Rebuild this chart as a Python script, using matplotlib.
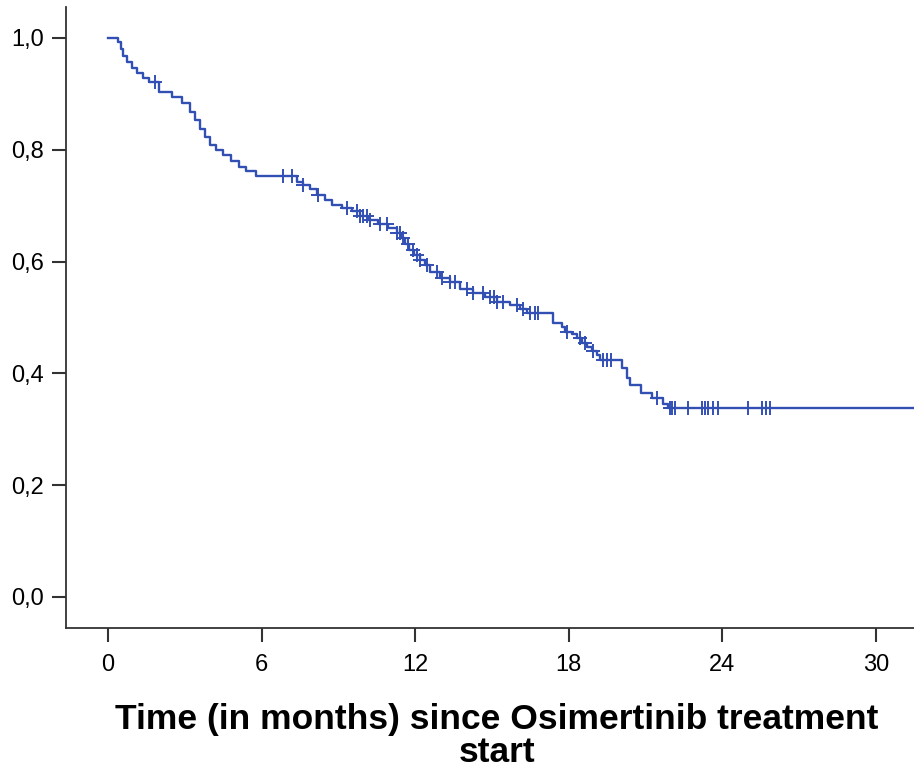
import numpy as np
import matplotlib
matplotlib.use("Agg")
import matplotlib.pyplot as plt

# Kaplan-Meier steps: event time (months) -> survival after event
event_times = [0.4, 0.5, 0.6, 0.75, 0.95, 1.15, 1.35, 1.6, 2.0, 2.5, 2.9, 3.2, 3.4,
               3.6, 3.8, 4.0, 4.2, 4.5, 4.8, 5.1, 5.4, 5.8,
               7.38, 7.62, 7.9, 8.16, 8.48, 8.75, 9.14, 9.53, 9.84, 10.16, 10.55,
               10.94, 11.29, 11.45, 11.6, 11.76, 11.95, 12.19, 12.38, 12.58, 12.97,
               13.36, 13.75, 14.26, 14.73, 15.2, 15.7, 16.1, 16.37, 17.38, 17.73,
               17.85, 18.13, 18.32, 18.52, 18.71, 18.9, 19.1, 19.22, 20.08, 20.27,
               20.4, 20.82, 21.25, 21.68, 21.88]
event_surv = [0.993, 0.980, 0.967, 0.957, 0.947, 0.937, 0.928, 0.921, 0.903, 0.895,
              0.883, 0.868, 0.853, 0.838, 0.822, 0.808, 0.800, 0.790, 0.780, 0.770,
              0.762, 0.753,
              0.742, 0.737, 0.730, 0.719, 0.710, 0.701, 0.696, 0.690, 0.682, 0.674,
              0.667, 0.660, 0.651, 0.642, 0.631, 0.621, 0.612, 0.603, 0.594, 0.581,
              0.571, 0.564, 0.551, 0.544, 0.537, 0.528, 0.522, 0.515, 0.508, 0.490,
              0.483, 0.474, 0.470, 0.463, 0.454, 0.447, 0.440, 0.433, 0.424, 0.410,
              0.392, 0.379, 0.365, 0.356, 0.345, 0.338]

# censored observations (months)
censor_times = [1.85, 6.84, 7.19, 7.62, 8.2, 9.34, 9.73, 9.84, 9.96, 10.12, 10.23,
                10.63, 10.9, 11.29, 11.4, 11.52, 11.72, 11.91, 12.07, 12.19, 12.46,
                12.85, 13.05, 13.36, 13.55, 14.02, 14.26, 14.65, 14.92, 15.08, 15.2,
                15.43, 15.98, 16.21, 16.48, 16.68, 16.8, 17.93, 18.44, 18.63, 18.95,
                19.34, 19.49, 19.65, 21.45, 21.95, 22.03, 22.15, 22.66, 23.2, 23.32,
                23.44, 23.63, 23.83, 25.0, 25.55, 25.7, 25.86]
follow_up_end = 31.5

x_ticks = [0, 6, 12, 18, 24, 30]
y_ticks = [0.0, 0.2, 0.4, 0.6, 0.8, 1.0]
y_tick_labels = ["0,0", "0,2", "0,4", "0,6", "0,8", "1,0"]
x_label = "Time (in months) since Osimertinib treatment\nstart"

line_color = "#3250b4"
font = ["Liberation Sans", "DejaVu Sans"]

fig = plt.figure(figsize=(9.14, 7.73), dpi=100)
ax = fig.add_axes([0.0722, 0.1876, 0.9278, 0.8034])

t = np.array([0.0] + event_times + [follow_up_end])
s = np.array([1.0] + event_surv + [event_surv[-1]])
ax.step(t, s, where="post", color=line_color, lw=1.7)

# place censor marks on the curve
idx = np.searchsorted(t, censor_times, side="right") - 1
ax.plot(censor_times, s[idx], linestyle="none", marker="+", color=line_color,
        markersize=10, markeredgewidth=1.4)

ax.set_xlim(-1.64, 31.48)
ax.set_ylim(-0.0555, 1.0555)
for side in ("top", "right"):
    ax.spines[side].set_visible(False)
for side in ("left", "bottom"):
    ax.spines[side].set_linewidth(1.3)
    ax.spines[side].set_color("#333333")

ax.set_xticks(x_ticks)
ax.set_xticklabels([str(v) for v in x_ticks], family=font, fontsize=17)
ax.set_yticks(y_ticks)
ax.set_yticklabels(y_tick_labels, family=font, fontsize=17)
ax.tick_params(axis="both", direction="out", length=10, width=1.5, color="#333333", pad=6)
ax.tick_params(axis="x", pad=9)

ax.set_xlabel(x_label, family=font, fontsize=25.5, fontweight="bold",
              labelpad=19, linespacing=1.02)
ax.xaxis.label.set_x(0.508)

fig.savefig("out.png", dpi=100)
